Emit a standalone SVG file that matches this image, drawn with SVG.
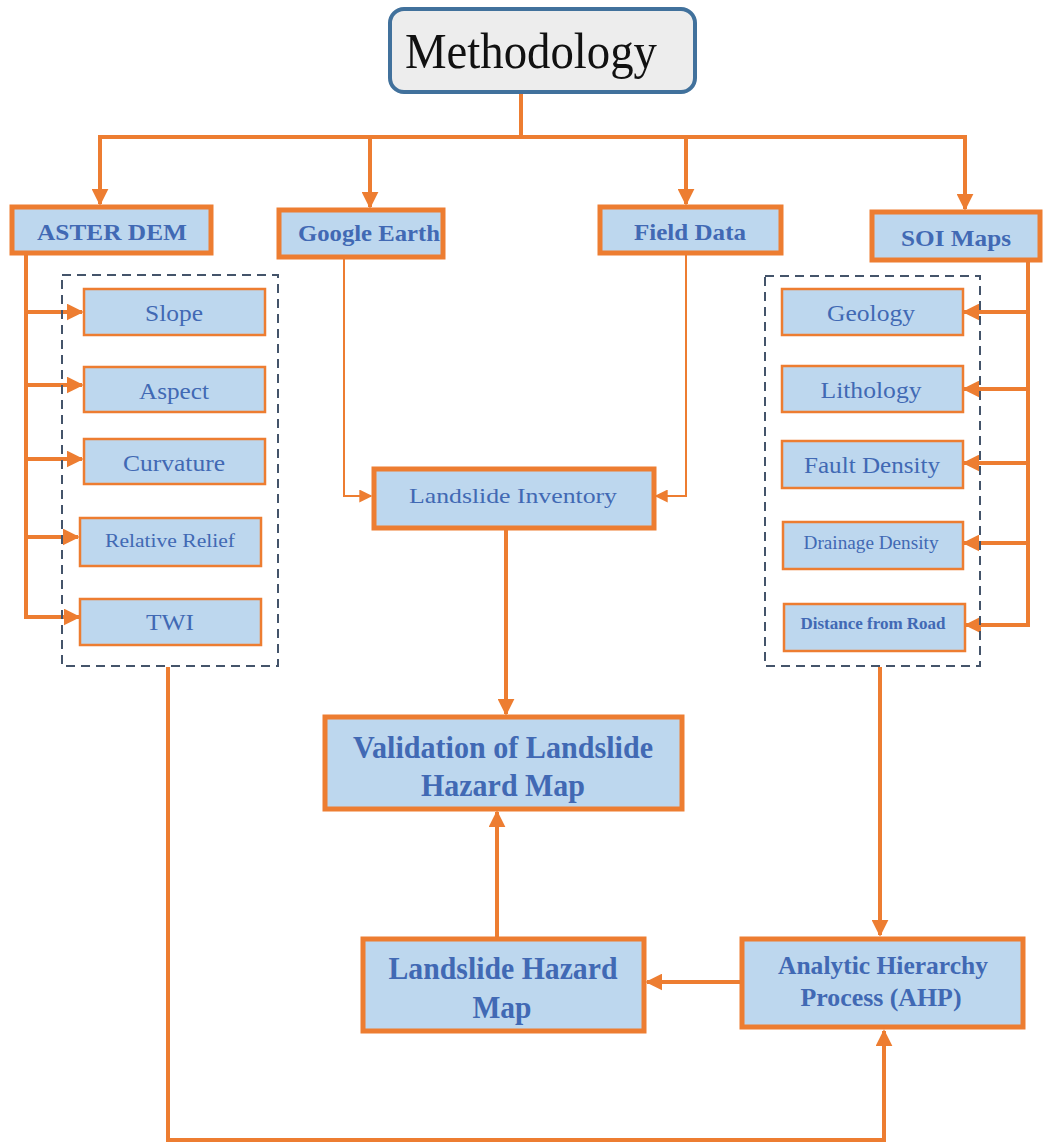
<svg xmlns="http://www.w3.org/2000/svg" width="1047" height="1144" viewBox="0 0 1047 1144">
<defs>
<style>
.main{fill:#bdd7ee;stroke:#ed7d31;stroke-width:5}
.sub{fill:#bdd7ee;stroke:#ed7d31;stroke-width:2.5}
.dash{fill:none;stroke:#44546a;stroke-width:2;stroke-dasharray:9 6}
.t{font-family:"Liberation Serif","Times New Roman",serif;fill:#4169b4;text-anchor:middle}
.b{font-weight:bold}
.c{fill:none;stroke:#ed7d31;stroke-width:4}
.thin{fill:none;stroke:#ed7d31;stroke-width:2}
</style>
<marker id="ah" viewBox="0 0 10 10" refX="9" refY="5" markerWidth="17" markerHeight="17" markerUnits="userSpaceOnUse" orient="auto">
<path d="M0,0 L10,5 L0,10 z" fill="#ed7d31"/>
</marker>
<marker id="ahs" viewBox="0 0 10 10" refX="9" refY="5" markerWidth="13" markerHeight="13" markerUnits="userSpaceOnUse" orient="auto">
<path d="M0,0 L10,5 L0,10 z" fill="#ed7d31"/>
</marker>
</defs>
<rect width="1047" height="1144" fill="#ffffff"/>

<g id="connectors">
<path class="c" d="M521,92 V137"/>
<path class="c" d="M98,137 H967"/>
<path class="c" d="M100,137 V204" marker-end="url(#ah)"/>
<path class="c" d="M370,137 V207" marker-end="url(#ah)"/>
<path class="c" d="M686,137 V204" marker-end="url(#ah)"/>
<path class="c" d="M965,137 V209" marker-end="url(#ah)"/>
<path class="c" d="M26,254 V617"/>
<path class="c" d="M26,312 H82" marker-end="url(#ah)"/>
<path class="c" d="M26,385 H82" marker-end="url(#ah)"/>
<path class="c" d="M26,459 H82" marker-end="url(#ah)"/>
<path class="c" d="M26,537 H78" marker-end="url(#ah)"/>
<path class="c" d="M24,617 H79" marker-end="url(#ah)"/>
<path class="c" d="M1028,262 V625"/>
<path class="c" d="M1028,312 H964" marker-end="url(#ah)"/>
<path class="c" d="M1028,389 H964" marker-end="url(#ah)"/>
<path class="c" d="M1028,463 H964" marker-end="url(#ah)"/>
<path class="c" d="M1028,543 H964" marker-end="url(#ah)"/>
<path class="c" d="M1030,625 H966" marker-end="url(#ah)"/>
<path class="thin" d="M344,258 V496 H371" marker-end="url(#ahs)"/>
<path class="thin" d="M686,253 V496 H656" marker-end="url(#ahs)"/>
<path class="c" d="M506,529 V714" marker-end="url(#ah)"/>
<path class="c" d="M497,937 V812" marker-end="url(#ah)"/>
<path class="c" d="M880,667 V935" marker-end="url(#ah)"/>
<path class="c" d="M741,982 H647" marker-end="url(#ah)"/>
<path class="c" d="M168,667 V1140 H884 V1031" marker-end="url(#ah)"/>
</g>

<g id="methodology">
<rect x="390" y="9" width="305" height="83" rx="14" fill="#ededed" stroke="#41719c" stroke-width="4"/>
<text x="531" y="68" font-family="Liberation Serif, Times New Roman, serif" font-size="50" fill="#111" text-anchor="middle" textLength="252" lengthAdjust="spacingAndGlyphs">Methodology</text>
</g>

<g id="aster-dem">
<rect class="main" x="12" y="207" width="199" height="46"/>
<text class="t b" x="112" y="240" font-size="24" textLength="150" lengthAdjust="spacingAndGlyphs">ASTER DEM</text>
</g>
<g id="google-earth">
<rect class="main" x="279" y="210" width="164" height="47"/>
<text class="t b" x="369" y="241" font-size="23" textLength="142" lengthAdjust="spacingAndGlyphs">Google Earth</text>
</g>
<g id="field-data">
<rect class="main" x="600" y="207" width="181" height="46"/>
<text class="t b" x="690" y="240" font-size="23" textLength="112" lengthAdjust="spacingAndGlyphs">Field Data</text>
</g>
<g id="soi-maps">
<rect class="main" x="872" y="212" width="168" height="48"/>
<text class="t b" x="956" y="246" font-size="23" textLength="110" lengthAdjust="spacingAndGlyphs">SOI Maps</text>
</g>

<g id="aster-group">
<rect class="dash" x="62" y="275" width="216" height="391"/>
</g>
<g id="slope">
<rect class="sub" x="84" y="289" width="181" height="46"/>
<text class="t" x="174" y="321" font-size="24" textLength="58" lengthAdjust="spacingAndGlyphs">Slope</text>
</g>
<g id="aspect">
<rect class="sub" x="84" y="367" width="181" height="45"/>
<text class="t" x="174" y="399" font-size="24" textLength="70" lengthAdjust="spacingAndGlyphs">Aspect</text>
</g>
<g id="curvature">
<rect class="sub" x="84" y="439" width="181" height="45"/>
<text class="t" x="174" y="471" font-size="24" textLength="102" lengthAdjust="spacingAndGlyphs">Curvature</text>
</g>
<g id="relative-relief">
<rect class="sub" x="80" y="518" width="181" height="48"/>
<text class="t" x="170" y="547" font-size="19" textLength="130" lengthAdjust="spacingAndGlyphs">Relative Relief</text>
</g>
<g id="twi">
<rect class="sub" x="80" y="599" width="181" height="46"/>
<text class="t" x="170" y="630" font-size="24" textLength="48" lengthAdjust="spacingAndGlyphs">TWI</text>
</g>

<g id="soi-group">
<rect class="dash" x="765" y="276" width="215" height="390"/>
</g>
<g id="geology">
<rect class="sub" x="782" y="289" width="181" height="46"/>
<text class="t" x="871" y="321" font-size="24" textLength="88" lengthAdjust="spacingAndGlyphs">Geology</text>
</g>
<g id="lithology">
<rect class="sub" x="782" y="366" width="181" height="46"/>
<text class="t" x="871" y="398" font-size="24" textLength="101" lengthAdjust="spacingAndGlyphs">Lithology</text>
</g>
<g id="fault-density">
<rect class="sub" x="782" y="441" width="181" height="47"/>
<text class="t" x="872" y="473" font-size="23" textLength="136" lengthAdjust="spacingAndGlyphs">Fault Density</text>
</g>
<g id="drainage-density">
<rect class="sub" x="783" y="522" width="180" height="47"/>
<text class="t" x="871" y="549" font-size="18" textLength="135" lengthAdjust="spacingAndGlyphs">Drainage Density</text>
</g>
<g id="distance-from-road">
<rect class="sub" x="784" y="604" width="181" height="47"/>
<text class="t b" x="873" y="629" font-size="16" textLength="145" lengthAdjust="spacingAndGlyphs">Distance from Road</text>
</g>

<g id="landslide-inventory">
<rect class="main" x="374" y="469" width="280" height="59"/>
<text class="t" x="513" y="503" font-size="22" textLength="208" lengthAdjust="spacingAndGlyphs">Landslide Inventory</text>
</g>

<g id="validation">
<rect class="main" x="325" y="717" width="357" height="92"/>
<text class="t b" x="503" y="758" font-size="32" textLength="300" lengthAdjust="spacingAndGlyphs">Validation of Landslide</text>
<text class="t b" x="503" y="796" font-size="32" textLength="164" lengthAdjust="spacingAndGlyphs">Hazard Map</text>
</g>

<g id="hazard-map">
<rect class="main" x="363" y="939" width="281" height="92"/>
<text class="t b" x="503" y="979" font-size="32" textLength="229" lengthAdjust="spacingAndGlyphs">Landslide Hazard</text>
<text class="t b" x="502" y="1018" font-size="32" textLength="59" lengthAdjust="spacingAndGlyphs">Map</text>
</g>

<g id="ahp">
<rect class="main" x="742" y="939" width="281" height="88"/>
<text class="t b" x="883" y="974" font-size="25" textLength="210" lengthAdjust="spacingAndGlyphs">Analytic Hierarchy</text>
<text class="t b" x="881" y="1006" font-size="25" textLength="161" lengthAdjust="spacingAndGlyphs">Process (AHP)</text>
</g>
</svg>
